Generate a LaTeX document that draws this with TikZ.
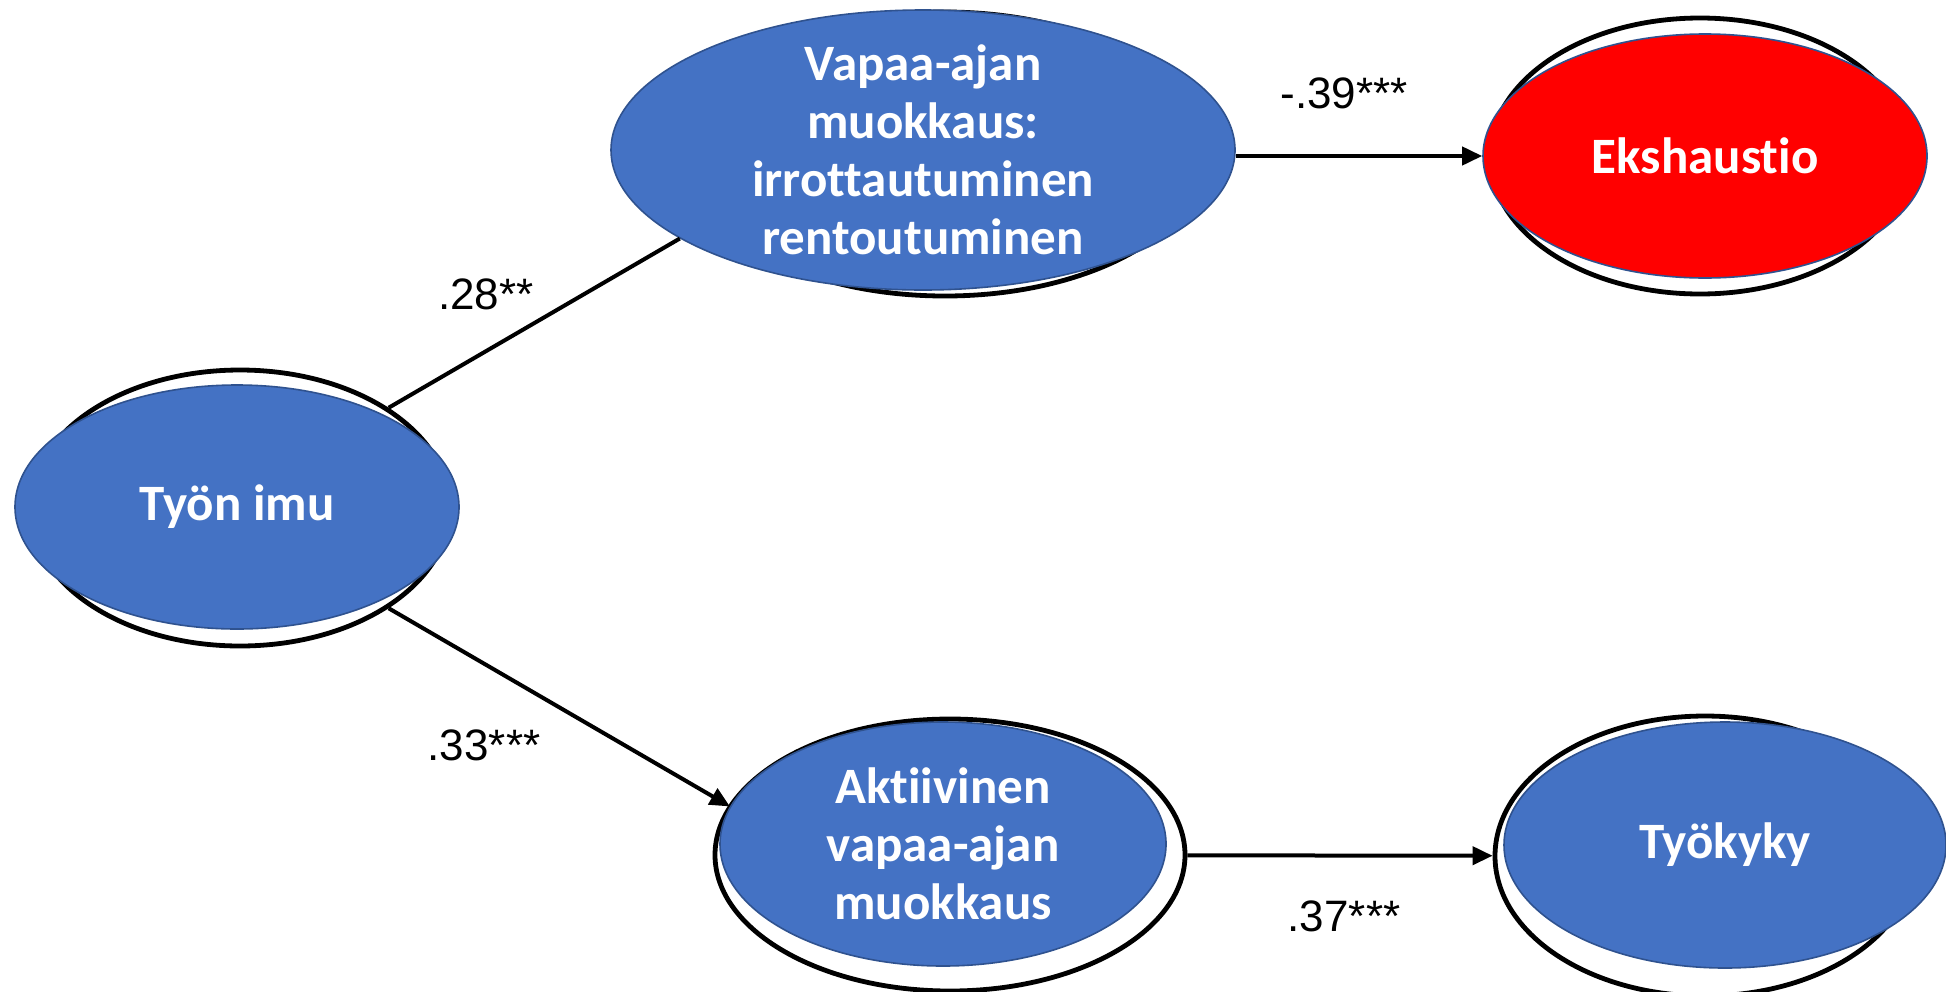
\documentclass[tikz,border=0pt]{standalone}
\usepackage{fontspec}
\setmainfont{Liberation Sans}
\newfontfamily\calibri[Ligatures=NoCommon]{Carlito}
\usetikzlibrary{arrows.meta,shapes.geometric}
\definecolor{boxblue}{HTML}{4472C4}
\definecolor{boxedge}{HTML}{2F528F}

\begin{document}
\begin{tikzpicture}[x=.5pt,y=-.5pt,>={Triangle[length=10pt,width=9pt]},
    rim/.style={ellipse,draw,line width=2.4pt,fill=white,inner sep=0pt},
    var/.style={ellipse,draw=boxedge,line width=.8pt,fill=boxblue,text=white,
      inner xsep=0pt,inner ysep=-12pt,align=center,
      font=\calibri\bfseries\fontsize{25.5}{29}\selectfont},
    coef/.style={font=\fontsize{22}{26}\selectfont},
    link/.style={line width=2pt}]
\useasboundingbox (0,0) rectangle (1946,991);
% black rings behind the variables
\node[rim,minimum width=210pt,minimum height=138pt] (imurim)  at (240,508) {};
\node[rim,minimum width=260pt,minimum height=142pt] (vapaarim) at (945,154) {};
\node[rim,minimum width=210pt,minimum height=138pt] (ekshrim) at (1700,156) {};
\node[rim,minimum width=235pt,minimum height=136pt] (aktrim)  at (950,855) {};
\node[rim,minimum width=210pt,minimum height=140pt] (kykyrim) at (1705,856) {};
% variables
\node[var,minimum width=222pt,minimum height=122pt] (imu) at (237,507) {Työn imu};
\node[var,minimum width=312pt,minimum height=140pt] (vapaa) at (923,150)
  {Vapaa-ajan\\muokkaus:\\irrottautuminen\\rentoutuminen};
\node[var,fill=red,minimum width=222pt,minimum height=122pt] (eksh) at (1705,156) {Ekshaustio};
\node[var,minimum width=223pt,minimum height=122pt] (akt) at (943,844)
  {Aktiivinen\\vapaa-ajan\\muokkaus};
\node[var,minimum width=221pt,minimum height=123pt] (kyky) at (1725,845) {Työkyky};
% paths
\draw[link] (imurim.34) -- (vapaa.200);
\draw[link,->] (imurim.-34) -- (akt.170);
\draw[link,->] (vapaa.east |- eksh) -- (eksh);
\draw[link,->] (aktrim) -- (kykyrim);
% coefficients
\node[coef] (w1) at (486,294) {.28**};
\node[coef] (w2) at (484,745) {.33***};
\node[coef] (w3) at (1344,93) {-.39***};
\node[coef] (w4) at (1344,916) {.37***};
\end{tikzpicture}
\end{document}
